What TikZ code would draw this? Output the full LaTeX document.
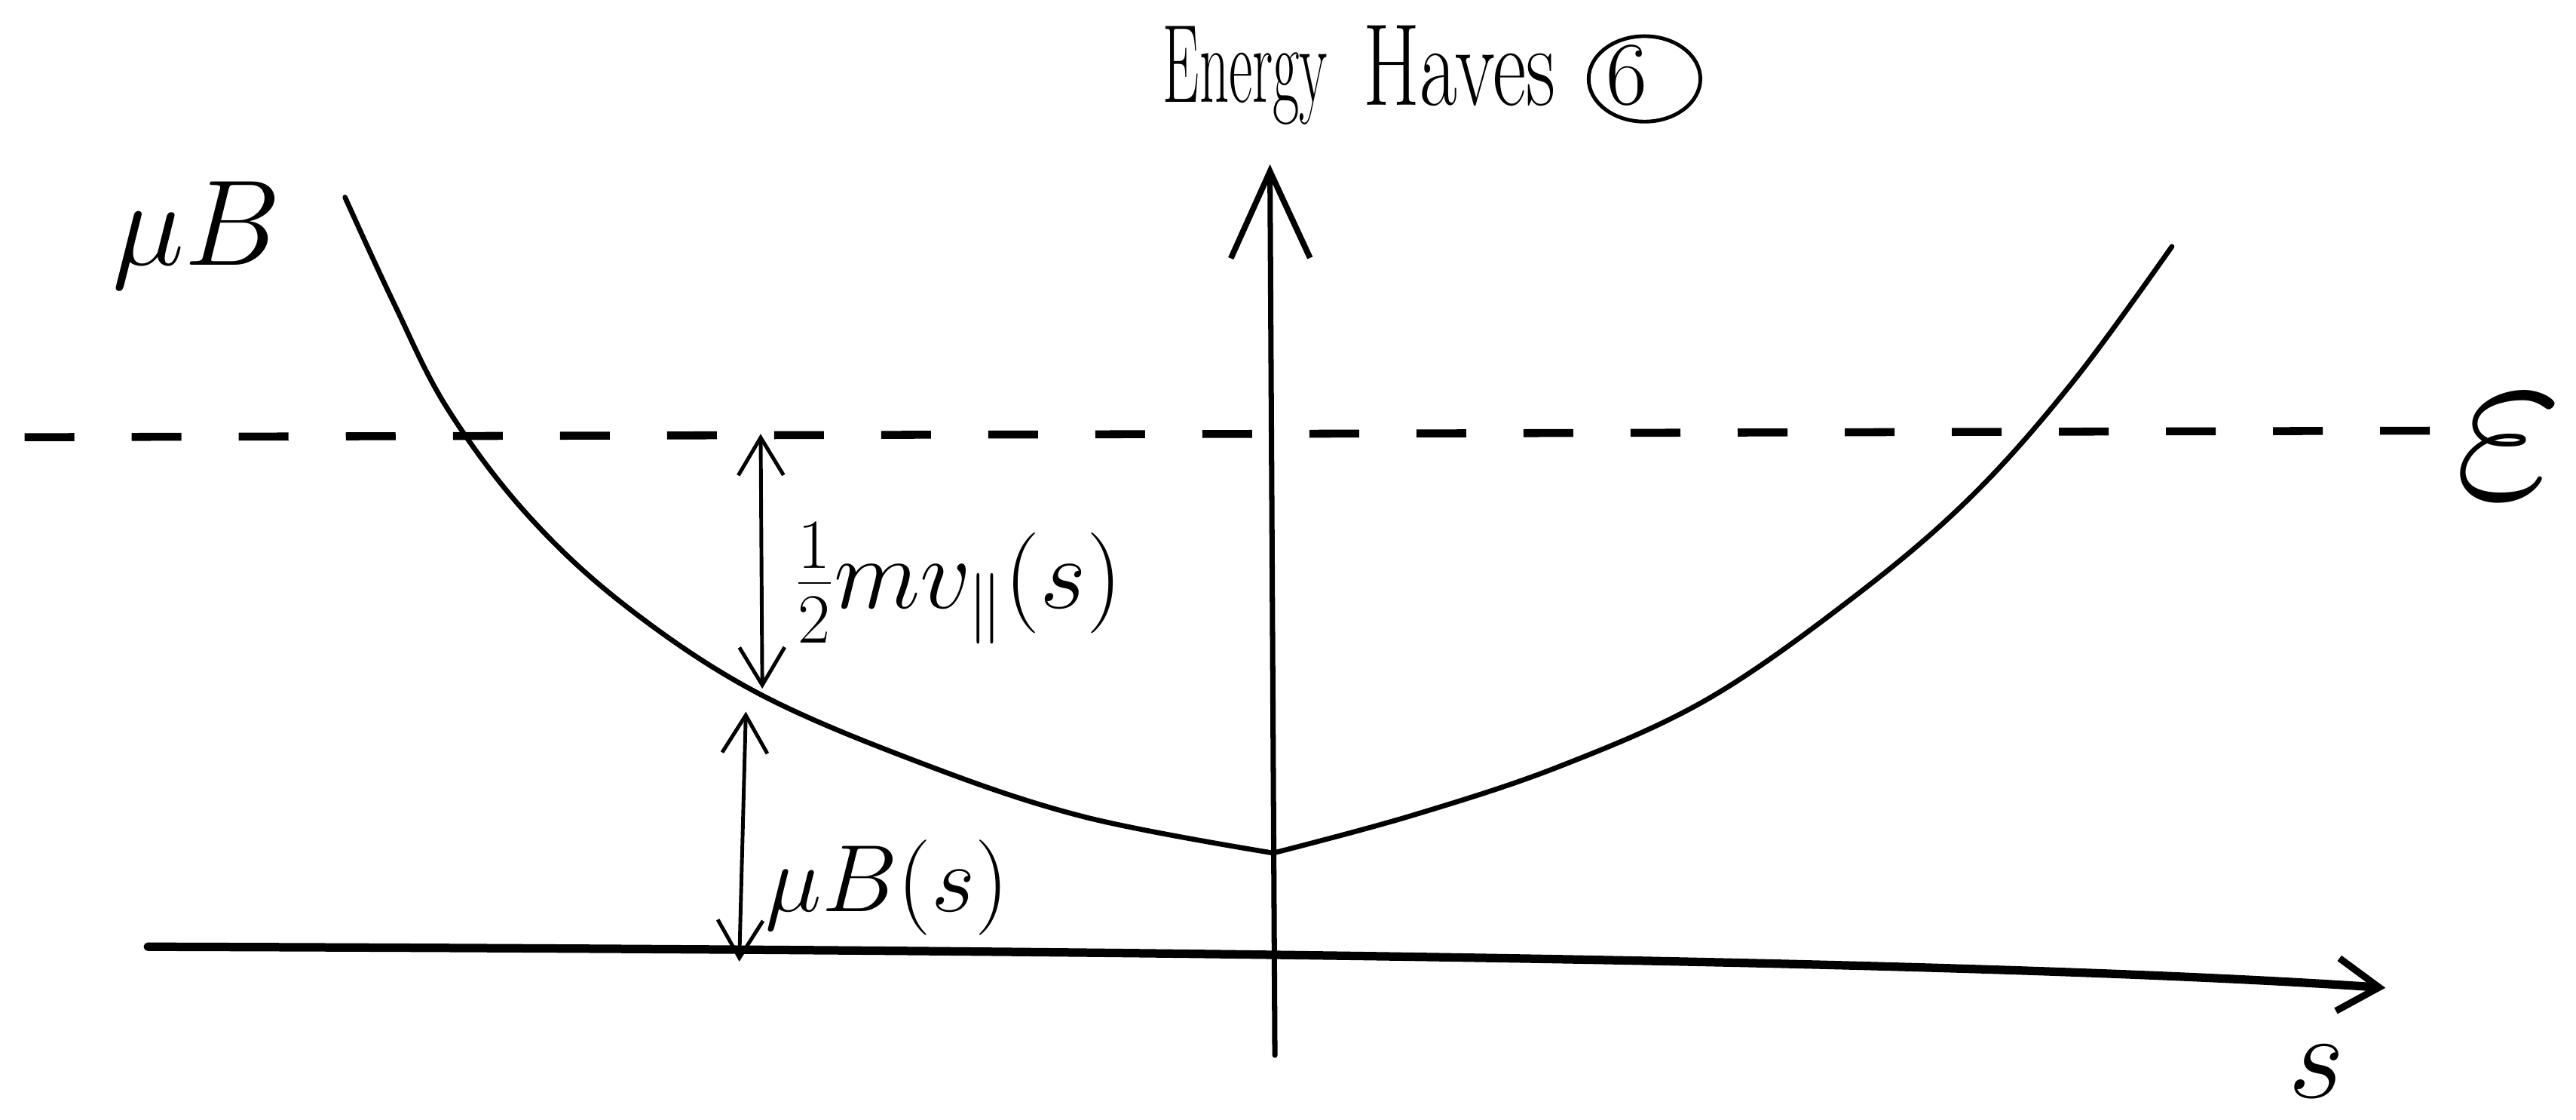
\RequirePackage{fix-cm}
\documentclass[tikz,border=0pt]{standalone}
\usetikzlibrary{arrows.meta}
\begin{document}
\begin{tikzpicture}[x=0.02179cm,y=-0.02179cm,
  curveline/.style={line width=1.9pt,line cap=round},
  axisline/.style={line width=3.2pt,line cap=round},
  vaxis/.style={line width=2pt,line cap=round},
  dashline/.style={line width=3pt,dash pattern=on 0.66cm off 0.76cm},
  bigbarb/.style={-{Straight Barb[length=1.15cm,width=1.05cm,line width=2.2pt]}},
  hbarb/.style={-{Straight Barb[length=0.55cm,width=0.7cm,line width=2.6pt]}},
  dblbarb/.style={line width=1.4pt,{Straight Barb[length=0.5cm,width=0.6cm,line width=1.4pt]}-{Straight Barb[length=0.5cm,width=0.6cm,line width=1.4pt]}},
  lbl/.style={inner sep=0pt,outer sep=0pt}
]
\useasboundingbox (0,0) rectangle (1568,681);
% axes
\coordinate (vbot) at (776,642);
\coordinate (vtop) at (773,100);
\draw[vaxis,bigbarb] (vbot) -- (vtop);
\coordinate (hleft) at (90,576);
\coordinate (hright) at (1452,601);
\draw[axisline,hbarb] (hleft) .. controls (700,578) and (1200,584) .. (hright);
% dashed energy level
\coordinate (dleft) at (15,266);
\coordinate (dright) at (1488,262);
\draw[dashline] (dleft) -- (dright);
% potential curve
\coordinate (kink) at (775,519);
\draw[curveline] plot[smooth,tension=0.6] coordinates {(210,120) (240,185) (272,248) (320,312) (380,368) (460,421) (560,464) (660,497) (kink)};
\draw[curveline] plot[smooth,tension=0.6] coordinates {(kink) (860,496) (950,466) (1040,425) (1130,362) (1200,302) (1262,232) (1322,150)};
% double arrows
\coordinate (a1top) at (463,264);
\coordinate (a1bot) at (464,419);
\draw[dblbarb] (a1top) -- (a1bot);
\coordinate (a2top) at (454,433);
\coordinate (a2bot) at (450,585);
\draw[dblbarb] (a2top) -- (a2bot);
% labels
\node[lbl,anchor=base west] (energy) at (708,62) {\fontsize{42}{46}\selectfont\scalebox{0.52}[1]{Energy}};
\node[lbl,anchor=base west] (haves) at (830,64) {\fontsize{44}{48}\selectfont\scalebox{0.7}[1]{Haves}};
\node[lbl] (six) at (990,46) {\fontsize{34}{38}\selectfont 6};
\draw[line width=1.4pt] (1001,48) ellipse [x radius=34,y radius=26];
\node[lbl] (muB) at (120,143) {\fontsize{46}{50}\selectfont$\mu B$};
\node[lbl,anchor=west] (kin) at (484,355) {\fontsize{38}{42}\selectfont$\frac{1}{2}mv_{\parallel}(s)$};
\node[lbl,anchor=west] (pot) at (466,540) {\fontsize{36}{40}\selectfont$\mu B(s)$};
\node[lbl] (slab) at (1410,652) {\fontsize{46}{50}\selectfont$s$};
\node[lbl,anchor=west] (eps) at (1494,272) {\fontsize{90}{90}\selectfont$\varepsilon$};
\end{tikzpicture}
\end{document}
